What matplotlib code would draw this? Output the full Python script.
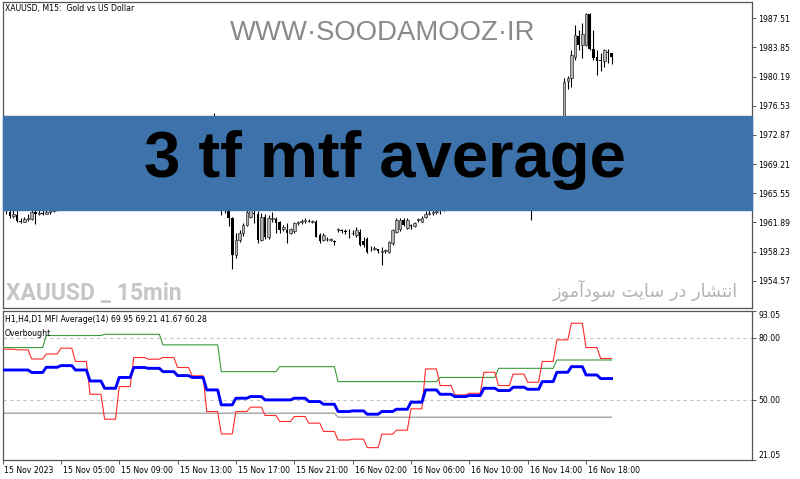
import matplotlib.pyplot as plt
import matplotlib.transforms as mtransforms
import numpy as np
from matplotlib.patches import Rectangle

# XAUUSD M15 candles, bar 0 = 15 Nov 2023 01:00
opens = [1964.2, 1963.5, 1963.2, 1962.7, 1962.8, 1962.1, 1962.0, 1962.3, 1962.3, 1963.2,
         1963.0, 1963.1, 1963.0, 1963.2, 1963.3, 1963.6, 1963.9, 1964.2, 1964.0, 1964.5,
         1964.9, 1964.6, 1965.1, 1965.5, 1965.2, 1965.8, 1966.1, 1965.7, 1966.3, 1966.0,
         1965.6, 1965.9, 1966.4, 1966.8, 1966.5, 1966.2, 1966.6, 1967.0, 1966.7, 1966.3,
         1966.0, 1965.7, 1966.1, 1966.5, 1966.2, 1965.9, 1966.3, 1966.7, 1967.1, 1966.8,
         1966.4, 1966.9, 1967.3, 1967.0, 1966.6, 1966.9, 1967.2, 1966.8, 1967.0, 1966.5,
         1964.3, 1964.0, 1963.8, 1962.4, 1957.8, 1959.7, 1960.5, 1961.6, 1962.6, 1963.1,
         1963.0, 1959.7, 1962.6, 1960.0, 1962.3, 1962.3, 1961.9, 1961.0, 1960.9, 1960.5,
         1960.8, 1961.8, 1961.9, 1962.1, 1962.1, 1962.0, 1962.0, 1960.3, 1959.7, 1959.8,
         1959.7, 1959.5, 1960.9, 1960.9, 1960.8, 1960.6, 1960.5, 1960.3, 1960.7, 1959.6,
         1959.8, 1958.6, 1958.6, 1958.5, 1958.2, 1958.3, 1958.2, 1959.3, 1960.7, 1961.0,
         1962.2, 1961.2, 1961.5, 1961.4, 1962.2, 1962.0, 1962.6, 1963.0, 1963.1, 1963.2,
         1963.4, 1963.6, 1963.9, 1964.3, 1964.1, 1964.6, 1964.9, 1965.3, 1965.0, 1965.5,
         1965.8, 1965.4, 1965.1, 1965.6, 1966.0, 1965.7, 1965.3, 1965.0, 1965.4, 1965.1,
         1964.8, 1965.2, 1965.0, 1964.7, 1964.4, 1964.8, 1964.2, 1964.9, 1965.5, 1966.1,
         1966.6, 1968.2, 1967.5, 1968.6, 1969.5, 1979.6, 1980.0, 1982.7, 1985.3, 1984.2,
         1984.2, 1988.1, 1983.7, 1982.7, 1982.3, 1982.1, 1983.3, 1983.1]
highs = [1965.0, 1964.0, 1963.8, 1963.5, 1963.6, 1962.5, 1962.6, 1963.0, 1963.6, 1963.4,
         1963.5, 1963.6, 1963.7, 1964.0, 1964.2, 1964.3, 1964.6, 1964.6, 1964.9, 1965.3,
         1965.3, 1965.5, 1965.9, 1965.9, 1966.2, 1966.5, 1966.5, 1966.7, 1966.7, 1966.4,
         1966.3, 1966.8, 1967.2, 1967.2, 1966.9, 1967.0, 1967.4, 1967.4, 1967.1, 1966.7,
         1966.4, 1966.5, 1966.9, 1966.9, 1966.6, 1966.7, 1967.1, 1967.5, 1967.5, 1967.2,
         1967.3, 1967.7, 1967.7, 1967.4, 1967.3, 1967.6, 1967.6, 1967.4, 1975.6, 1967.2,
         1965.0, 1964.6, 1964.2, 1962.6, 1960.6, 1960.9, 1961.8, 1963.5, 1964.0, 1963.8,
         1963.3, 1963.1, 1962.9, 1962.8, 1963.2, 1962.6, 1962.1, 1961.6, 1961.8, 1961.2,
         1962.0, 1962.1, 1962.3, 1962.4, 1962.3, 1962.2, 1962.2, 1960.5, 1960.5, 1960.0,
         1959.9, 1959.7, 1961.2, 1961.1, 1961.0, 1961.1, 1960.9, 1961.3, 1961.0, 1960.1,
         1960.0, 1958.9, 1958.9, 1958.6, 1958.8, 1958.6, 1959.6, 1961.1, 1962.4, 1962.5,
         1962.5, 1962.5, 1961.7, 1962.0, 1962.5, 1962.7, 1963.3, 1963.4, 1963.5, 1963.6,
         1964.0, 1964.3, 1964.7, 1964.7, 1965.0, 1965.3, 1965.7, 1965.7, 1965.9, 1966.2,
         1966.2, 1965.8, 1966.0, 1966.4, 1966.4, 1966.1, 1965.7, 1965.8, 1965.8, 1965.5,
         1965.6, 1965.6, 1965.4, 1965.1, 1965.2, 1965.2, 1965.3, 1965.9, 1966.5, 1967.0,
         1969.0, 1968.8, 1969.2, 1970.1, 1980.0, 1980.3, 1983.5, 1986.7, 1986.0, 1986.9,
         1988.13, 1988.2, 1986.0, 1983.5, 1983.1, 1983.7, 1983.7, 1983.1]
lows = [1963.1, 1962.9, 1962.5, 1962.5, 1961.9, 1961.8, 1961.9, 1962.1, 1962.2, 1961.7,
        1962.8, 1962.8, 1962.9, 1963.0, 1963.2, 1963.3, 1963.6, 1963.7, 1963.7, 1964.2,
        1964.3, 1964.3, 1964.8, 1964.9, 1964.9, 1965.5, 1965.4, 1965.4, 1965.7, 1965.3,
        1965.3, 1965.6, 1966.1, 1966.2, 1965.9, 1965.9, 1966.3, 1966.4, 1966.0, 1965.7,
        1965.4, 1965.4, 1965.8, 1965.9, 1965.6, 1965.6, 1966.0, 1966.4, 1966.5, 1966.1,
        1966.1, 1966.6, 1966.7, 1966.3, 1966.3, 1966.6, 1966.5, 1966.5, 1965.8, 1964.0,
        1962.8, 1963.1, 1961.4, 1956.0, 1957.4, 1959.4, 1960.2, 1961.4, 1962.5, 1961.8,
        1959.3, 1959.5, 1959.8, 1959.8, 1961.9, 1960.5, 1960.5, 1960.8, 1959.3, 1960.4,
        1960.6, 1961.5, 1961.7, 1961.8, 1961.9, 1961.8, 1960.0, 1959.3, 1959.5, 1959.6,
        1959.5, 1959.0, 1960.7, 1960.6, 1960.4, 1959.9, 1960.3, 1960.1, 1958.9, 1958.8,
        1958.0, 1958.3, 1958.4, 1958.1, 1956.6, 1958.1, 1958.0, 1959.1, 1960.6, 1960.8,
        1961.4, 1961.0, 1961.1, 1961.3, 1962.0, 1961.9, 1962.5, 1962.8, 1962.8, 1963.0,
        1962.9, 1963.3, 1963.6, 1963.8, 1963.8, 1964.3, 1964.6, 1964.7, 1964.7, 1965.2,
        1965.1, 1964.8, 1964.8, 1965.3, 1965.4, 1965.0, 1964.7, 1964.7, 1964.8, 1964.5,
        1964.5, 1964.7, 1964.4, 1964.1, 1964.1, 1962.2, 1963.9, 1964.6, 1965.2, 1965.8,
        1966.0, 1967.0, 1967.2, 1968.2, 1969.2, 1978.6, 1978.9, 1982.3, 1983.5, 1982.5,
        1984.0, 1983.5, 1982.3, 1980.4, 1980.9, 1981.4, 1981.9, 1981.8]
closes = [1963.5, 1963.3, 1962.7, 1962.9, 1962.1, 1962.0, 1962.3, 1962.5, 1963.2, 1963.0,
          1963.1, 1963.0, 1963.2, 1963.3, 1963.6, 1963.9, 1964.2, 1964.0, 1964.5, 1964.9,
          1964.6, 1965.1, 1965.5, 1965.2, 1965.8, 1966.1, 1965.7, 1966.3, 1966.0, 1965.6,
          1965.9, 1966.4, 1966.8, 1966.5, 1966.2, 1966.6, 1967.0, 1966.7, 1966.3, 1966.0,
          1965.7, 1966.1, 1966.5, 1966.2, 1965.9, 1966.3, 1966.7, 1967.1, 1966.8, 1966.4,
          1966.9, 1967.3, 1967.0, 1966.6, 1966.9, 1967.2, 1966.8, 1967.0, 1966.5, 1964.3,
          1964.0, 1963.8, 1962.4, 1957.8, 1959.7, 1960.5, 1961.6, 1963.2, 1963.4, 1963.0,
          1959.7, 1962.6, 1960.0, 1962.5, 1962.4, 1961.8, 1960.9, 1961.3, 1960.5, 1961.0,
          1961.8, 1961.9, 1962.1, 1962.1, 1962.0, 1962.0, 1960.1, 1959.5, 1960.3, 1959.8,
          1959.7, 1959.4, 1961.0, 1960.8, 1960.7, 1960.5, 1960.6, 1960.9, 1959.0, 1959.1,
          1958.2, 1958.5, 1958.6, 1958.3, 1958.2, 1958.4, 1959.4, 1960.9, 1962.2, 1962.2,
          1961.6, 1962.2, 1961.4, 1961.8, 1962.2, 1962.4, 1963.0, 1963.1, 1963.1, 1963.2,
          1963.6, 1963.9, 1964.3, 1964.1, 1964.6, 1964.9, 1965.3, 1965.0, 1965.5, 1965.8,
          1965.4, 1965.1, 1965.6, 1966.0, 1965.7, 1965.3, 1965.0, 1965.4, 1965.1, 1964.8,
          1965.2, 1965.0, 1964.7, 1964.4, 1964.8, 1964.2, 1964.9, 1965.5, 1966.1, 1966.6,
          1968.2, 1967.5, 1968.6, 1969.5, 1979.55, 1980.0, 1982.9, 1985.4, 1984.2, 1985.6,
          1988.05, 1983.7, 1982.5, 1982.1, 1982.1, 1983.5, 1983.1, 1982.7]

price_ticks = [1987.51, 1983.85, 1980.19, 1976.53, 1972.87, 1969.21, 1965.55, 1961.89, 1958.23, 1954.57]

# MFI per timeframe
h1_mfi = [74.4, 74.1, 69.7, 72.1, 74.9, 68.5, 52.7, 40.7, 56.4, 70.4,
          69.6, 70.4, 65.6, 61.6, 44.4, 33.6, 44.4, 46.5, 42.5, 39.6,
          42.0, 38.8, 34.8, 30.7, 31.1, 27.0, 33.5, 35.4, 45.7, 64.9,
          56.9, 52.4, 53.2, 63.3, 56.9, 62.4, 58.5, 68.5, 78.9, 86.9,
          75.2, 69.95]
avg_mfi = [64.4, 64.4, 63.2, 65.7, 66.5, 64.4, 59.1, 55.6, 60.8, 65.6,
           65.2, 63.6, 61.7, 60.8, 54.8, 47.6, 50.8, 51.6, 50.0, 50.0,
           50.8, 49.2, 47.9, 44.4, 44.7, 43.1, 44.4, 45.5, 48.9, 54.8,
           52.7, 51.6, 52.1, 55.6, 54.5, 56.1, 55.1, 58.8, 63.3, 66.0,
           62.0, 60.28]
h4_start = [0, 12, 28, 44, 60, 76, 92, 120, 136, 152]
h4_mfi = [75.2, 81.0, 81.6, 76.5, 63.6, 66.0, 58.8, 60.8, 65.2, 69.21]
d1_start = [0, 92]
d1_mfi = [43.6, 41.67]

time_labels = ['15 Nov 2023', '15 Nov 05:00', '15 Nov 09:00', '15 Nov 13:00', '15 Nov 17:00',
               '15 Nov 21:00', '16 Nov 02:00', '16 Nov 06:00', '16 Nov 10:00', '16 Nov 14:00',
               '16 Nov 18:00']

plt.rcParams['font.family'] = 'DejaVu Sans'

W, H = 800, 479
n = len(closes)
x = np.arange(n)
bar_px = 3.647


def rect(left, top, right, bottom):
    return [left / W, 1 - bottom / H, (right - left) / W, (bottom - top) / H]


def fx(px):
    return px / W


def fy(py):
    return 1 - py / H


fig = plt.figure(figsize=(8, 4.79), dpi=100)
ax = fig.add_axes(rect(2.5, 2, 752, 308))
ax2 = fig.add_axes(rect(2.5, 310.5, 752, 460))
xmax = (752 - 2.5) / bar_px

border = '#555555'
for a in (ax, ax2):
    for s in a.spines.values():
        s.set_color(border)
        s.set_linewidth(0.9)
    a.set_xlim(0, xmax)
    a.yaxis.tick_right()
    a.tick_params(axis='y', direction='out', length=3, width=0.7, color=border,
                  labelsize=5.6, pad=1.5)

# candles
o, hi, lo, c = map(np.array, (opens, highs, lows, closes))
up = c >= o
ax.vlines(x, lo, hi, color='black', lw=0.8, zorder=1)
body_lo = np.minimum(o, c)
body_h = np.maximum(np.abs(c - o), 0.06)
ax.bar(x[up], body_h[up], bottom=body_lo[up], width=0.7, facecolor='#b4b4b4',
       edgecolor='#303030', lw=0.5, zorder=2)
ax.bar(x[~up], body_h[~up], bottom=body_lo[~up], width=0.7, color='black', lw=0, zorder=2)
ax.set_ylim(1951.14, 1989.56)
ax.set_yticks(price_ticks)
ax.set_yticklabels([f'{v:.2f}' for v in price_ticks])
ax.set_xticks([])

# banner
ax.add_patch(Rectangle((0, (308 - 210) / 306), 1, 94 / 306, transform=ax.transAxes,
                       color='#3d72aa', zorder=10, clip_on=False))

# MFI panel
red = np.repeat(h1_mfi, 4)
blue = np.repeat(avg_mfi, 4)
green = np.repeat(h4_mfi, np.diff(h4_start + [n]))
gray = np.repeat(d1_mfi, np.diff(d1_start + [n]))
for lvl in (80, 50):
    ax2.axhline(lvl, color='#c4c4c4', lw=0.8, ls=(0, (3, 3)), zorder=1)
ax2.plot(x, gray, color='#8c8c8c', lw=0.8, zorder=2)
ax2.plot(x, green, color='#3a9a3a', lw=0.8, zorder=3)
ax2.plot(x, red, color='#ff2a2a', lw=0.8, zorder=4)
ax2.plot(x, blue, color='#0000ff', lw=2.1, zorder=5)
ax2.set_ylim(21.05, 93.05)
mfi_ticks = [93.05, 80.0, 50.0, 21.05]
ax2.set_yticks(mfi_ticks)
labs = ax2.set_yticklabels([f'{v:.2f}' for v in mfi_ticks])
labs[0].set_verticalalignment('top')
labs[-1].set_verticalalignment('bottom')

ax2.set_xticks(np.arange(len(time_labels)) * 16)
ax2.set_xticklabels(time_labels)
ax2.tick_params(axis='x', direction='out', length=3, width=0.7, color=border,
                labelsize=5.6, pad=1)
shift = mtransforms.ScaledTranslation(2 / 100, 0, fig.dpi_scale_trans)
for lab in ax2.get_xticklabels():
    lab.set_horizontalalignment('left')
    lab.set_transform(lab.get_transform() + shift)

# texts
fig.text(fx(5), fy(8), 'XAUUSD, M15:  Gold vs US Dollar', fontsize=5.6, va='center')
fig.text(fx(383), fy(39.5), 'WWW·SOODAMOOZ·IR', fontsize=19.8, family='Liberation Sans',
         color='#8a8a8a', ha='center', va='baseline')
fig.text(fx(385.4), fy(177.3), '3 tf mtf average', fontsize=47, fontweight='bold',
         family='Liberation Sans', color='black', ha='center', va='baseline')
fig.text(fx(6), fy(300), 'XAUUSD _ 15min', fontsize=16.5, fontweight='bold',
         family=['Roboto', 'DejaVu Sans'], color='#c6c6c6', va='baseline')
# انتشار در سایت سودآموز (shaped, visual order)
fa_text = '\ufeaf\ufeee\ufee3\ufe81\ufea9\ufeee\ufeb3 \ufe96\ufef3\ufe8e\ufeb3 \ufead\ufea9 \ufead\ufe8e\ufeb8\ufe98\ufee7\ufe8d'
fig.text(fx(738), fy(296), fa_text, fontsize=12.8, color='#b5b5b5', ha='right', va='baseline')

legend = 'H1,H4,D1 MFI Average(14) ' + ' '.join(f'{v:.2f}' for v in
                                                 (h1_mfi[-1], h4_mfi[-1], d1_mfi[-1], avg_mfi[-1]))
fig.text(fx(5), fy(319.5), legend, fontsize=5.6, va='center')
fig.text(fx(5), fy(333), 'Overbought', fontsize=5.6, va='center')

fig.savefig('out.png', dpi=100)
